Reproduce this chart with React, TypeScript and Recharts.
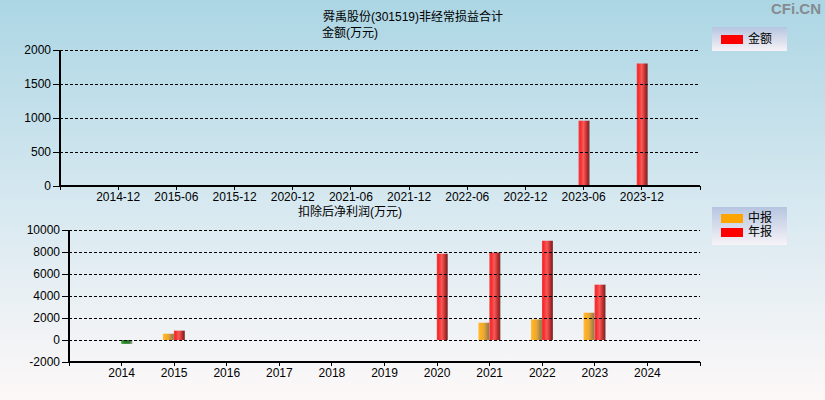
import React from 'react';
import { BarChart, Bar, XAxis, YAxis, Cell, ReferenceLine } from 'recharts';

// top chart: 非经常损益合计
const topPeriods = ['2014-12', '2015-06', '2015-12', '2020-12', '2021-06', '2021-12', '2022-06', '2022-12', '2023-06', '2023-12'];
const topAmount: (number | null)[] = [null, null, null, null, null, null, null, null, 960, 1800];
const topTicks = [0, 500, 1000, 1500, 2000];

// bottom chart: 扣除后净利润
const years = ['2014', '2015', '2016', '2017', '2018', '2019', '2020', '2021', '2022', '2023', '2024'];
const interim: (number | null)[] = [null, 570, null, null, null, null, null, 1570, 1870, 2480, null];
const annual: (number | null)[] = [-350, 850, null, null, null, null, 7850, 7960, 9030, 5030, null];
const bottomTicks = [-2000, 0, 2000, 4000, 6000, 8000, 10000];

const FONT = '"Liberation Sans", Arial, "Noto Sans CJK SC", sans-serif';

const topData = topPeriods.map((p, i) => ({ idx: i + 1, period: p, amount: topAmount[i] }));
const bottomData = years.map((y, i) => ({ idx: i + 1, year: y, interim: interim[i], annual: annual[i] }));

const tickStyle = { fontSize: 12, fill: '#000', fontFamily: FONT };
const axisStroke = { stroke: '#000', strokeWidth: 1.5, shapeRendering: 'crispEdges' } as const;
const tickStroke = { stroke: '#000', shapeRendering: 'crispEdges' } as const;

function Gradients() {
  return (
    <defs>
      <linearGradient id="gRed" x1="0" y1="0" x2="1" y2="0">
        <stop offset="0%" stopColor="#e24a4a" />
        <stop offset="15%" stopColor="#ff2626" />
        <stop offset="45%" stopColor="#f25c5c" />
        <stop offset="65%" stopColor="#d83a3a" />
        <stop offset="88%" stopColor="#9a2222" />
        <stop offset="100%" stopColor="#6e4a4a" />
      </linearGradient>
      <linearGradient id="gOrange" x1="0" y1="0" x2="1" y2="0">
        <stop offset="0%" stopColor="#ffbe3c" />
        <stop offset="20%" stopColor="#ffb020" />
        <stop offset="50%" stopColor="#e8a838" />
        <stop offset="85%" stopColor="#a88440" />
        <stop offset="100%" stopColor="#8a7a5a" />
      </linearGradient>
      <linearGradient id="gGreen" x1="0" y1="0" x2="1" y2="0">
        <stop offset="0%" stopColor="#3a9a3a" />
        <stop offset="30%" stopColor="#1e8a1e" />
        <stop offset="70%" stopColor="#2a7a2a" />
        <stop offset="100%" stopColor="#9a9a9a" />
      </linearGradient>
    </defs>
  );
}

// dashed grid lines, skipping the one that sits on the x axis
function gridLines(ticks: number[]) {
  return ticks.slice(1).map((v) => (
    <ReferenceLine key={v} y={v} stroke="#000" strokeDasharray="3 2" shapeRendering="crispEdges" />
  ));
}

const legendBox: React.CSSProperties = {
  position: 'absolute',
  left: 712,
  width: 75,
  background: 'linear-gradient(to bottom, #b6c5e0, #f7f3f7)',
};

function LegendRow({ color, label, top }: { color: string; label: string; top: number }) {
  return (
    <div style={{ position: 'absolute', left: 9, top, display: 'flex', alignItems: 'center' }}>
      <div style={{ width: 22, height: 9, background: color }} />
      <span style={{ marginLeft: 5, fontSize: 12, lineHeight: '12px', color: '#000', fontFamily: FONT }}>{label}</span>
    </div>
  );
}

export default function App() {
  return (
    <div
      style={{
        position: 'absolute',
        left: 0,
        top: 0,
        width: 825,
        height: 400,
        overflow: 'hidden',
        background: 'linear-gradient(to bottom, #acd6e4 0%, #d6e8f0 50%, #fdf8f8 100%)',
        fontFamily: FONT,
      }}
    >
      <div style={{ position: 'absolute', right: 4, top: 0, fontSize: 15, fontWeight: 'bold', color: '#858b90', fontFamily: FONT }}>CFi.CN</div>

      <div style={{ position: 'absolute', left: 323, top: 10, fontSize: 12, lineHeight: '14px', whiteSpace: 'nowrap' }}>舜禹股份(301519)非经常损益合计</div>
      <div style={{ position: 'absolute', left: 322, top: 26, fontSize: 12, lineHeight: '14px', whiteSpace: 'nowrap' }}>金额(万元)</div>

      <div style={{ position: 'absolute', left: 0, top: 0 }}>
        <BarChart width={825} height={216} data={topData} margin={{ top: 50, right: 125, left: 0, bottom: 0 }}>
          <Gradients />
          {gridLines(topTicks)}
          <XAxis
            dataKey="idx"
            type="number"
            domain={[0, 11]}
            ticks={[0, 1, 2, 3, 4, 5, 6, 7, 8, 9, 10, 11]}
            interval={0}
            tickFormatter={(v: number) => topPeriods[v - 1] ?? ''}
            tick={tickStyle}
            tickSize={4}
            axisLine={axisStroke}
            tickLine={tickStroke}
            height={30}
          />
          <YAxis
            domain={[0, 2000]}
            ticks={topTicks}
            interval={0}
            tick={tickStyle}
            tickSize={7}
            width={60}
            axisLine={axisStroke}
            tickLine={tickStroke}
          />
          <Bar dataKey="amount" fill="url(#gRed)" barSize={11} isAnimationActive={false} />
        </BarChart>
      </div>

      <div style={{ ...legendBox, top: 27, height: 24 }}>
        <LegendRow color="#ff0000" label="金额" top={6} />
      </div>

      <div style={{ position: 'absolute', left: 298, top: 205, fontSize: 12, lineHeight: '14px', whiteSpace: 'nowrap' }}>扣除后净利润(万元)</div>

      <div style={{ position: 'absolute', left: 0, top: 200 }}>
        <BarChart width={825} height={192} data={bottomData} margin={{ top: 30, right: 125, left: 0, bottom: 0 }} barGap={0}>
          <Gradients />
          {gridLines(bottomTicks)}
          <XAxis
            dataKey="idx"
            type="number"
            domain={[0, 12]}
            ticks={[0, 1, 2, 3, 4, 5, 6, 7, 8, 9, 10, 11, 12]}
            interval={0}
            tickFormatter={(v: number) => years[v - 1] ?? ''}
            tick={tickStyle}
            tickSize={4}
            axisLine={axisStroke}
            tickLine={tickStroke}
            height={30}
          />
          <YAxis
            domain={[-2000, 10000]}
            ticks={bottomTicks}
            interval={0}
            tick={tickStyle}
            tickSize={7}
            width={69}
            axisLine={axisStroke}
            tickLine={tickStroke}
          />
          <Bar dataKey="interim" fill="url(#gOrange)" barSize={11} isAnimationActive={false} />
          <Bar dataKey="annual" fill="url(#gRed)" barSize={11} isAnimationActive={false}>
            {bottomData.map((d) => (
              <Cell key={d.year} fill={d.annual !== null && d.annual < 0 ? 'url(#gGreen)' : 'url(#gRed)'} />
            ))}
          </Bar>
        </BarChart>
      </div>

      <div style={{ ...legendBox, top: 207, height: 38 }}>
        <LegendRow color="#ffa500" label="中报" top={5} />
        <LegendRow color="#ff0000" label="年报" top={19} />
      </div>
    </div>
  );
}
